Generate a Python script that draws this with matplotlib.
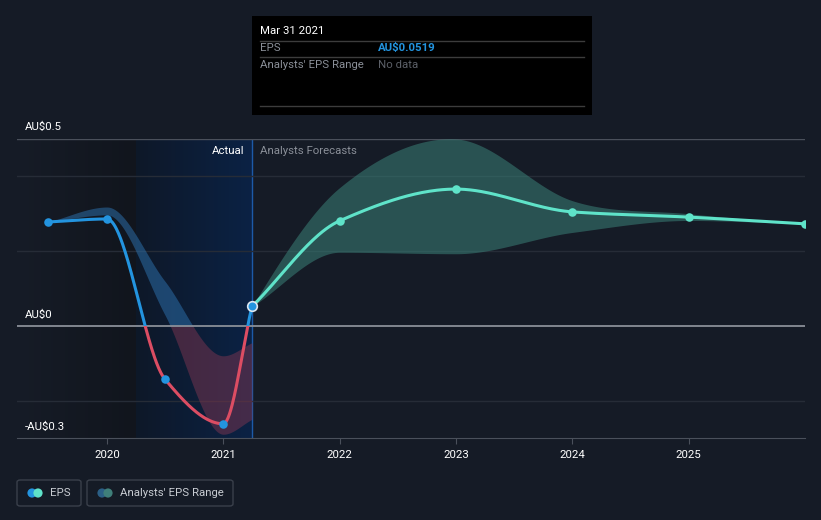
#!/usr/bin/env python3
# EPS history and analyst forecast chart (dark theme)

import numpy as np
import pandas as pd
import matplotlib
matplotlib.use('Agg')
import matplotlib.pyplot as plt
from matplotlib.patches import Rectangle, FancyBboxPatch, Circle

plt.rcParams['font.family'] = ['Roboto', 'DejaVu Sans']

# Data
eps_dates = ['2019-06-30', '2019-12-31', '2020-06-30', '2020-12-31', '2021-03-31']
eps_values = [0.278, 0.286, -0.142, -0.262, 0.0519]

past_range_high = [0.278, 0.318, 0.12, -0.08, -0.045]
past_range_low = [0.278, 0.297, 0.03, -0.29, -0.25]

fc_dates = ['2021-03-31', '2021-12-31', '2022-12-31', '2023-12-31', '2024-12-31', '2025-12-31']
fc_values = [0.0519, 0.281, 0.366, 0.305, 0.291, 0.273]
fc_high = [0.0519, 0.37, 0.5, 0.335, 0.30, 0.273]
fc_low = [0.0519, 0.197, 0.193, 0.25, 0.282, 0.273]

year_ticks = [2020, 2021, 2022, 2023, 2024, 2025]
y_grid = [-0.2, 0.0, 0.2, 0.4, 0.5]

BG = '#151b26'
W, H = 821, 520
FS = 8.2


def dec_year(dates):
    d = pd.to_datetime(dates)
    days = np.where(d.is_leap_year, 366, 365)
    return (d.year + d.dayofyear / days).to_numpy(dtype=float)


def hermite(x, y, m, n=300):
    h = np.diff(x)
    xs = np.linspace(x[0], x[-1], n)
    idx = np.clip(np.searchsorted(x, xs) - 1, 0, len(x) - 2)
    t = (xs - x[idx]) / h[idx]
    h00 = 2 * t**3 - 3 * t**2 + 1
    h10 = t**3 - 2 * t**2 + t
    h01 = -2 * t**3 + 3 * t**2
    h11 = t**3 - t**2
    ys = h00 * y[idx] + h10 * h[idx] * m[idx] + h01 * y[idx + 1] + h11 * h[idx] * m[idx + 1]
    return xs, ys


def monotone(x, y):
    """Monotone cubic (Fritsch-Carlson) interpolation."""
    x = np.asarray(x, float)
    y = np.asarray(y, float)
    h = np.diff(x)
    d = np.diff(y) / h
    m = np.zeros_like(y)
    m[0], m[-1] = d[0], d[-1]
    for i in range(1, len(y) - 1):
        if d[i - 1] * d[i] <= 0:
            m[i] = 0
        else:
            w1 = 2 * h[i] + h[i - 1]
            w2 = h[i] + 2 * h[i - 1]
            m[i] = (w1 + w2) / (w1 / d[i - 1] + w2 / d[i])
    return hermite(x, y, m)


def catmull(x, y):
    """Catmull-Rom style spline, smoother for the range bands."""
    x = np.asarray(x, float)
    y = np.asarray(y, float)
    d = np.diff(y) / np.diff(x)
    m = np.zeros_like(y)
    m[1:-1] = (y[2:] - y[:-2]) / (x[2:] - x[:-2])
    m[0] = 1.5 * d[0] - 0.5 * m[1]
    m[-1] = 1.5 * d[-1] - 0.5 * m[-2]
    return hermite(x, y, m)


def px(x, y):
    return x / W, 1 - y / H


fig = plt.figure(figsize=(W / 100, H / 100), dpi=100, facecolor=BG)
ax = fig.add_axes([17 / W, (H - 438) / H, (805 - 17) / W, (438 - 139) / H])
ax.set_facecolor(BG)

ex = dec_year(eps_dates)
fx = dec_year(fc_dates)
xmin, xmax = 2019.227, 2026.0
ymin, ymax = -0.3, 0.5
ax.set_xlim(xmin, xmax)
ax.set_ylim(ymin, ymax)

# background shading for the past
today = ex[-1]
shade_start = today - 1.0
grad = np.linspace(0, 1, 256).reshape(1, -1)
left_cmap = matplotlib.colors.LinearSegmentedColormap.from_list('l', ['#161c27', '#11151d'])
right_cmap = matplotlib.colors.LinearSegmentedColormap.from_list('r', ['#0e1828', '#0b2245'])
ax.imshow(grad, cmap=left_cmap, aspect='auto', extent=[xmin, shade_start, ymin, ymax], zorder=0)
ax.imshow(grad, cmap=right_cmap, aspect='auto', extent=[shade_start, today, ymin, ymax], zorder=0)
ax.axvline(today, color='#1d5aa8', lw=1, zorder=1)

# gridlines
for g in y_grid:
    if g == 0:
        ax.axhline(g, color='#8a8f98', lw=1.3, zorder=4)
    elif g == 0.5:
        ax.axhline(g, color='#4a505b', lw=1, zorder=1)
    else:
        ax.axhline(g, color='#262c37', lw=1, zorder=1)

# clipping rectangles above/below zero
above = Rectangle((xmin, 0), xmax - xmin, ymax, transform=ax.transData)
below = Rectangle((xmin, ymin), xmax - xmin, -ymin, transform=ax.transData)

# past analyst range
bx, bh = monotone(ex, past_range_high)
_, bl = monotone(ex, past_range_low)
f1 = ax.fill_between(bx, bl, bh, color='#2b6ca6', alpha=0.55, lw=0, zorder=2)
f1.set_clip_path(above)
f2 = ax.fill_between(bx, bl, bh, color='#7d3550', alpha=0.5, lw=0, zorder=2)
f2.set_clip_path(below)

# forecast range
fxs, fh = catmull(fx, fc_high)
_, fl = monotone(fx, fc_low)
ax.fill_between(fxs, fl, fh, color='#3a8077', alpha=0.55, lw=0, zorder=2)

# EPS line
lx, ly = monotone(ex, eps_values)
l1, = ax.plot(lx, ly, color='#2394df', lw=2.2, zorder=5, solid_capstyle='round')
l1.set_clip_path(above)
l2, = ax.plot(lx, ly, color='#dc4d63', lw=2.2, zorder=5, solid_capstyle='round')
l2.set_clip_path(below)
ax.scatter(ex[:-1], eps_values[:-1], s=38, color='#2394df', zorder=6, lw=0)

fxl, fyl = monotone(fx, fc_values)
ax.plot(fxl, fyl, color='#5fe3c9', lw=2.2, zorder=5)
ax.scatter(fx[1:], fc_values[1:], s=38, color='#5fe3c9', zorder=6, lw=0)
ax.scatter([ex[-1]], [eps_values[-1]], s=48, color='#2394df', edgecolor='#dbe6f0',
           lw=1.2, zorder=7)

# axes styling
for s in ['top', 'left', 'right']:
    ax.spines[s].set_visible(False)
ax.spines['bottom'].set_color('#4a505b')
ax.set_yticks([])
ax.set_xticks([y + 0.0 for y in year_ticks])
ax.set_xticklabels([str(y) for y in year_ticks], color='white', fontsize=FS)
ax.tick_params(axis='x', colors='#4a505b', length=4, pad=5, labelcolor='white')

# y labels
fig.text(*px(25, 127), 'AU$0.5', color='white', fontsize=FS, va='center')
fig.text(*px(25, 315), 'AU$0', color='white', fontsize=FS, va='center')
fig.text(*px(25, 427), '-AU$0.3', color='white', fontsize=FS, va='center')

# actual / forecast labels
fig.text(*px(244, 151), 'Actual', color='white', fontsize=FS, ha='right', va='center')
fig.text(*px(260, 151), 'Analysts Forecasts', color='#8a8f98', fontsize=FS, va='center')

# tooltip
fig.patches.append(Rectangle(px(252, 115), 340 / W, 99 / H, transform=fig.transFigure,
                             facecolor='black', edgecolor='none', zorder=10))
fig.text(*px(260, 31), 'Mar 31 2021', color='white', fontsize=FS, va='center', zorder=11)
for yy in [41, 57, 106]:
    fig.add_artist(plt.Line2D([260 / W, 584 / W], [1 - yy / H] * 2, color='#3c3c3c',
                              lw=1, transform=fig.transFigure, zorder=11))
fig.text(*px(260, 48), 'EPS', color='#8a8f98', fontsize=FS, va='center', zorder=11)
fig.text(*px(378, 48), 'AU$0.0519', color='#2394df', fontsize=FS, fontweight='bold',
         va='center', zorder=11)
fig.text(*px(260, 65), "Analysts' EPS Range", color='#8a8f98', fontsize=FS, va='center', zorder=11)
fig.text(*px(378, 65), 'No data', color='#5c6068', fontsize=FS, va='center', zorder=11)

# legend
for (x0, x1) in [(17, 81), (87, 233)]:
    fig.patches.append(FancyBboxPatch(px(x0, 506), (x1 - x0) / W, 26 / H,
                                      boxstyle='round,pad=0,rounding_size=0.004',
                                      transform=fig.transFigure, facecolor='none',
                                      edgecolor='#3a404b', lw=1))
r = 4.6
for cx, c1, c2 in [(32, '#2394df', '#5fe3c9'), (102, '#2b5f86', '#3f7f7a')]:
    for dx, c in [(0, c1), (6, c2)]:
        fig.patches.append(Circle((cx + dx, H - 493), r, transform=None, facecolor=c,
                                  edgecolor='none'))
fig.text(*px(50, 493), 'EPS', color='#c8ccd2', fontsize=FS, va='center')
fig.text(*px(120, 493), "Analysts' EPS Range", color='#c8ccd2', fontsize=FS, va='center')

fig.savefig('out.png', dpi=100, facecolor=BG)
